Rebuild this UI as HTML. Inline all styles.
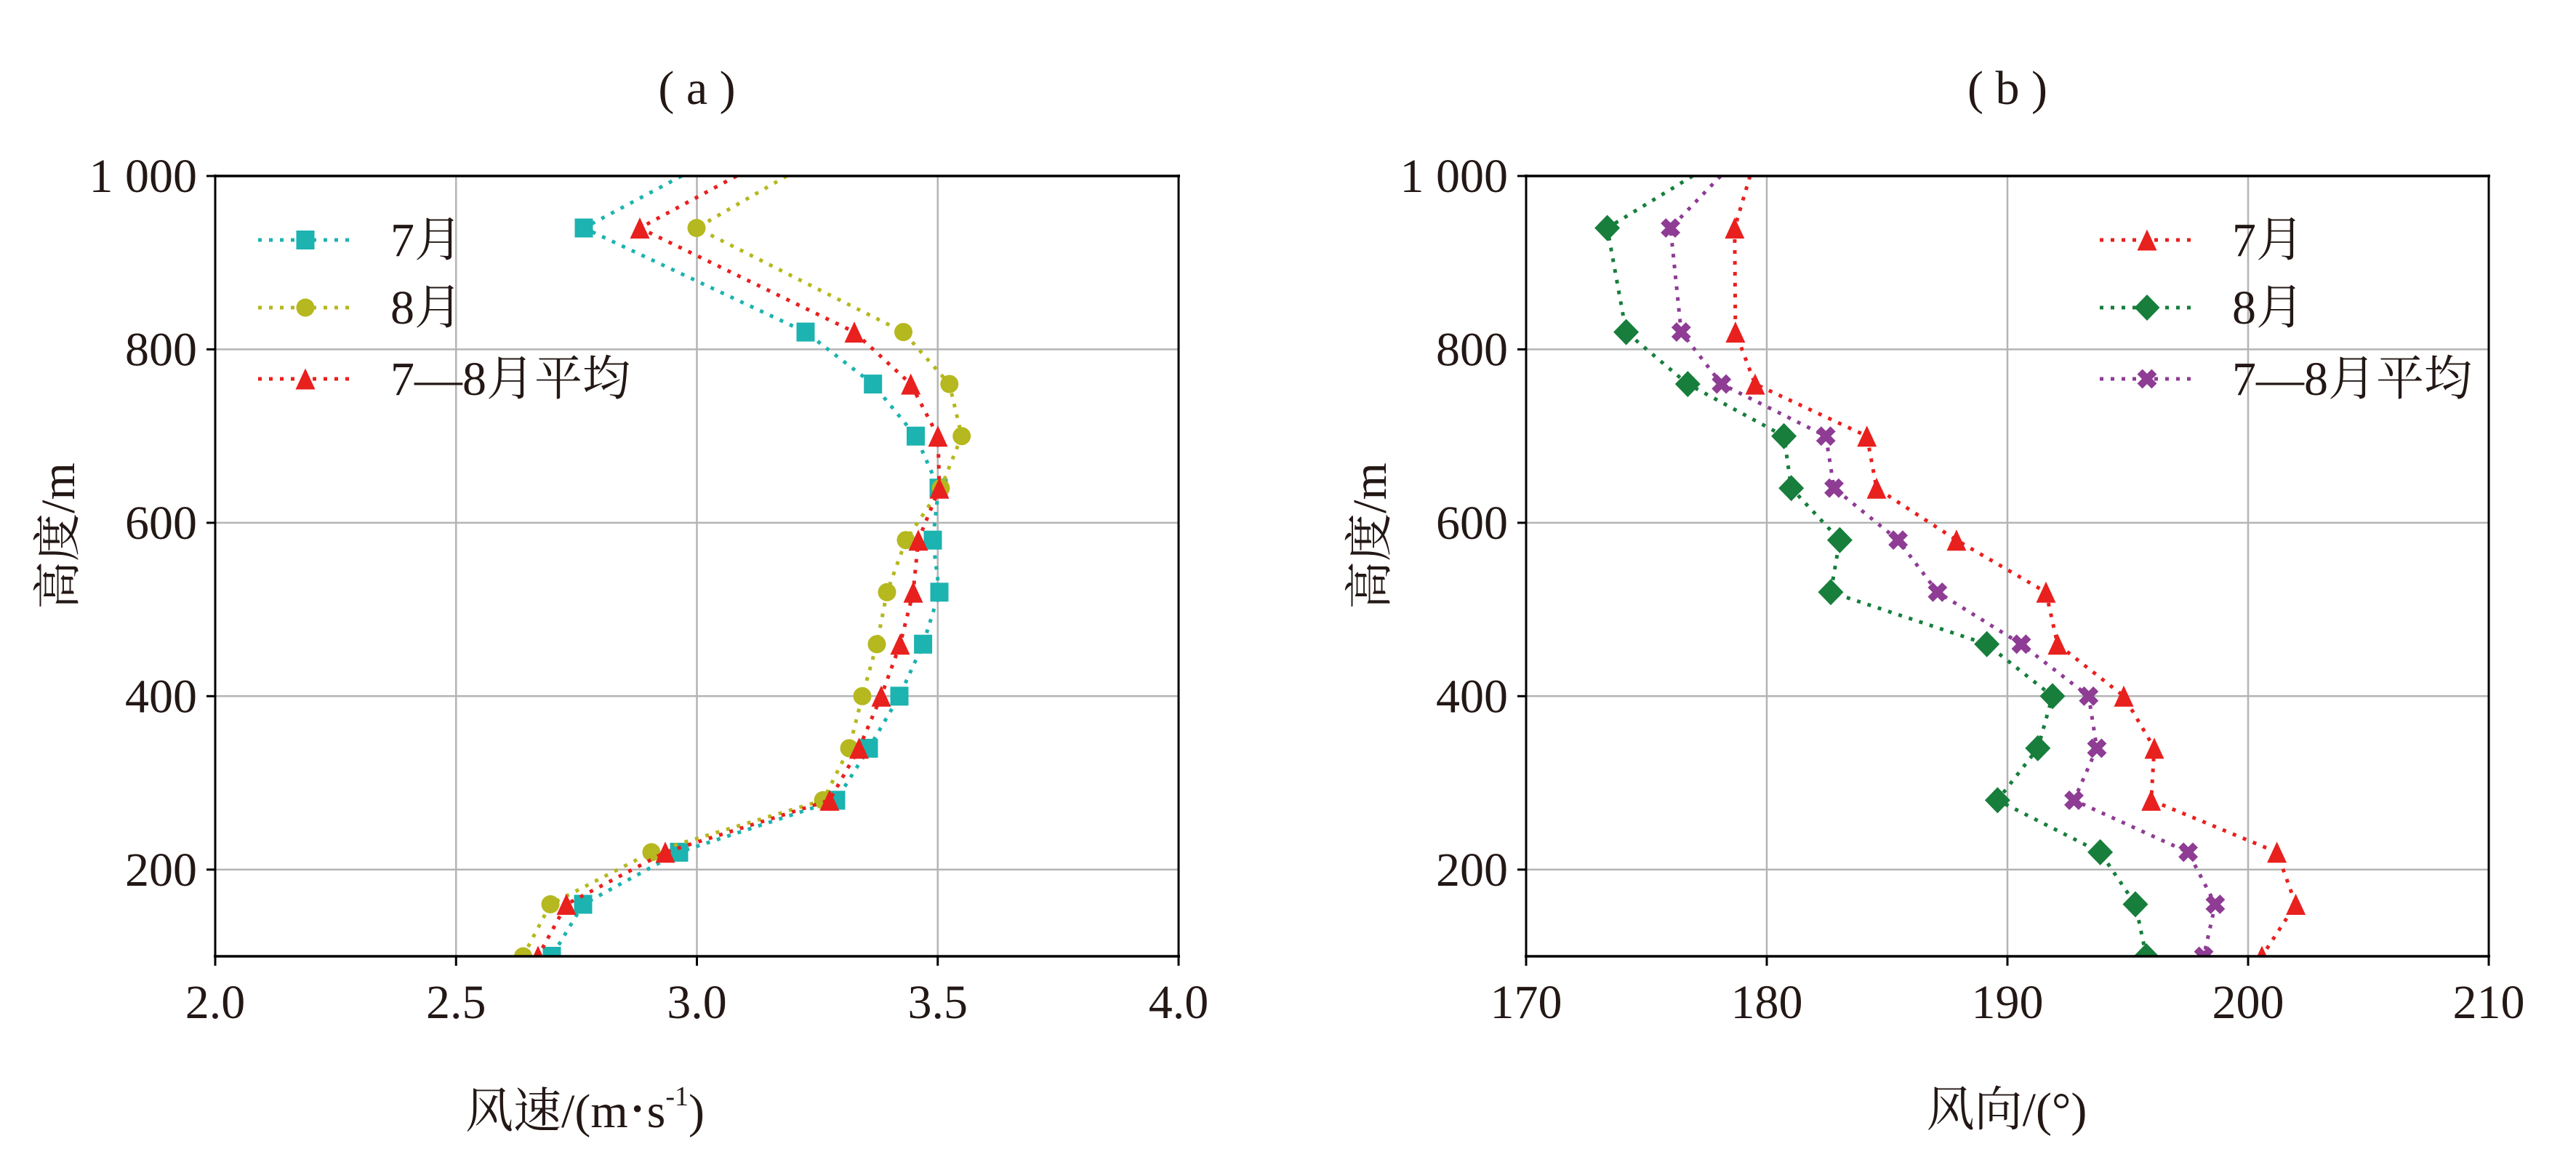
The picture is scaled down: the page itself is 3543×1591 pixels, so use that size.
<!DOCTYPE html>
<html>
<head>
<meta charset="utf-8">
<style>
html,body{margin:0;padding:0;background:#fff;}
svg{display:block;}
text{font-family:"Liberation Serif","Noto Serif CJK SC",serif;fill:#231815;}
</style>
</head>
<body>
<svg width="3543" height="1591" viewBox="0 0 3543 1591" xmlns="http://www.w3.org/2000/svg">
<defs>
  <clipPath id="ca"><rect x="296" y="242" width="1325" height="1073"/></clipPath>
  <clipPath id="cb"><rect x="2099" y="242" width="1324" height="1073"/></clipPath>
  <rect id="sq" x="-12.5" y="-13" width="25" height="26" fill="#1cb3b0"/>
  <circle id="ci" r="12.5" fill="#b5b81e"/>
  <polygon id="tr" points="0,-14.5 13.5,14.5 -13.5,14.5" fill="#e8201e"/>
  <polygon id="di" points="0,-18 17.5,0 0,18 -17.5,0" fill="#177e3c"/>
  <polygon id="xx" transform="rotate(45)" points="5,14 5,5 14,5 14,-5 5,-5 5,-14 -5,-14 -5,-5 -14,-5 -14,5 -5,5 -5,14" fill="#8e3c94"/>
</defs>
<rect width="3543" height="1591" fill="#fff"/>

<!-- ================= PLOT A ================= -->
<g stroke="#b4b4b4" stroke-width="2.5">
  <line x1="627.25" y1="242" x2="627.25" y2="1315"/>
  <line x1="958.5" y1="242" x2="958.5" y2="1315"/>
  <line x1="1289.75" y1="242" x2="1289.75" y2="1315"/>
  <line x1="296" y1="480.4" x2="1621" y2="480.4"/>
  <line x1="296" y1="718.9" x2="1621" y2="718.9"/>
  <line x1="296" y1="957.3" x2="1621" y2="957.3"/>
  <line x1="296" y1="1195.8" x2="1621" y2="1195.8"/>
</g>

<g clip-path="url(#ca)">
  <polyline fill="none" stroke="#1cb3b0" stroke-width="5" stroke-dasharray="5 10" points="937.5,242 803,313.5 1108,456.6 1200.7,528.1 1259.5,599.7 1291,671.2 1283,742.7 1292,814.3 1269.6,885.8 1237,957.3 1195,1028.9 1150,1100.4 934,1171.9 802,1243.5 759,1315"/>
  <g>
    <use href="#sq" x="803" y="313.5"/><use href="#sq" x="1108" y="456.6"/><use href="#sq" x="1200.7" y="528.1"/><use href="#sq" x="1259.5" y="599.7"/><use href="#sq" x="1291" y="671.2"/><use href="#sq" x="1283" y="742.7"/><use href="#sq" x="1292" y="814.3"/><use href="#sq" x="1269.6" y="885.8"/><use href="#sq" x="1237" y="957.3"/><use href="#sq" x="1195" y="1028.9"/><use href="#sq" x="1150" y="1100.4"/><use href="#sq" x="934" y="1171.9"/><use href="#sq" x="802" y="1243.5"/><use href="#sq" x="759" y="1315"/>
  </g>
  <polyline fill="none" stroke="#b5b81e" stroke-width="5" stroke-dasharray="5 10" points="1082,242 958,313.5 1242.5,456.6 1305.8,528.1 1322.7,599.7 1294,671.2 1246,742.7 1220,814.3 1206,885.8 1186,957.3 1168,1028.9 1132,1100.4 896,1171.9 757,1243.5 719.5,1315"/>
  <g>
    <use href="#ci" x="958" y="313.5"/><use href="#ci" x="1242.5" y="456.6"/><use href="#ci" x="1305.8" y="528.1"/><use href="#ci" x="1322.7" y="599.7"/><use href="#ci" x="1294" y="671.2"/><use href="#ci" x="1246" y="742.7"/><use href="#ci" x="1220" y="814.3"/><use href="#ci" x="1206" y="885.8"/><use href="#ci" x="1186" y="957.3"/><use href="#ci" x="1168" y="1028.9"/><use href="#ci" x="1132" y="1100.4"/><use href="#ci" x="896" y="1171.9"/><use href="#ci" x="757" y="1243.5"/><use href="#ci" x="719.5" y="1315"/>
  </g>
  <polyline fill="none" stroke="#e8201e" stroke-width="5" stroke-dasharray="5 10" points="1013,242 880,313.5 1175,456.6 1252.7,528.1 1290,599.7 1292,671.2 1263,742.7 1256,814.3 1238,885.8 1212,957.3 1181.5,1028.9 1141,1100.4 915,1171.9 779,1243.5 740,1315"/>
  <g>
    <use href="#tr" x="880" y="313.5"/><use href="#tr" x="1175" y="456.6"/><use href="#tr" x="1252.7" y="528.1"/><use href="#tr" x="1290" y="599.7"/><use href="#tr" x="1292" y="671.2"/><use href="#tr" x="1263" y="742.7"/><use href="#tr" x="1256" y="814.3"/><use href="#tr" x="1238" y="885.8"/><use href="#tr" x="1212" y="957.3"/><use href="#tr" x="1181.5" y="1028.9"/><use href="#tr" x="1141" y="1100.4"/><use href="#tr" x="915" y="1171.9"/><use href="#tr" x="779" y="1243.5"/><use href="#tr" x="740" y="1315"/>
  </g>
</g>

<!-- spines A -->
<g stroke="#000">
  <line x1="294" y1="242" x2="1623" y2="242" stroke-width="3.6"/>
  <line x1="294" y1="1315" x2="1623" y2="1315" stroke-width="3.6"/>
  <line x1="296" y1="240" x2="296" y2="1317" stroke-width="3"/>
  <line x1="1621" y1="240" x2="1621" y2="1317" stroke-width="3"/>
  <g stroke-width="3">
    <line x1="284" y1="242" x2="296" y2="242"/>
    <line x1="284" y1="480.4" x2="296" y2="480.4"/>
    <line x1="284" y1="718.9" x2="296" y2="718.9"/>
    <line x1="284" y1="957.3" x2="296" y2="957.3"/>
    <line x1="284" y1="1195.8" x2="296" y2="1195.8"/>
    <line x1="296" y1="1315" x2="296" y2="1328"/>
    <line x1="627.25" y1="1315" x2="627.25" y2="1328"/>
    <line x1="958.5" y1="1315" x2="958.5" y2="1328"/>
    <line x1="1289.75" y1="1315" x2="1289.75" y2="1328"/>
    <line x1="1621" y1="1315" x2="1621" y2="1328"/>
  </g>
</g>

<!-- legend A -->
<g stroke-width="5" stroke-dasharray="5 10" fill="none">
  <line x1="355" y1="330" x2="486" y2="330" stroke="#1cb3b0"/>
  <line x1="355" y1="423" x2="486" y2="423" stroke="#b5b81e"/>
  <line x1="355" y1="521" x2="486" y2="521" stroke="#e8201e"/>
</g>
<use href="#sq" x="420" y="330"/>
<use href="#ci" x="420" y="423"/>
<use href="#tr" x="420" y="521"/>
<g font-size="66">
  <text x="537" y="352">7月</text>
  <text x="537" y="445">8月</text>
  <text x="537" y="543">7—8月平均</text>
</g>

<!-- labels A -->
<g font-size="66" text-anchor="end">
  <text x="271" y="264">1 000</text>
  <text x="271" y="502.5">800</text>
  <text x="271" y="741">600</text>
  <text x="271" y="979.5">400</text>
  <text x="271" y="1218">200</text>
</g>
<g font-size="66" text-anchor="middle">
  <text x="296" y="1400">2.0</text>
  <text x="627.25" y="1400">2.5</text>
  <text x="958.5" y="1400">3.0</text>
  <text x="1289.75" y="1400">3.5</text>
  <text x="1621" y="1400">4.0</text>
  <text x="958.5" y="143">( a )</text>
</g>
<text x="640" y="1550" font-size="66">风速/(m<tspan font-size="40" dx="6" dy="-12">•</tspan><tspan font-size="66" dx="6" dy="12">s</tspan><tspan font-size="38" dy="-30">-1</tspan><tspan font-size="66" dy="30">)</tspan></text>
<text font-size="66" text-anchor="middle" transform="translate(102,737) rotate(-90)">高度/m</text>

<!-- ================= PLOT B ================= -->
<g stroke="#b4b4b4" stroke-width="2.5">
  <line x1="2430" y1="242" x2="2430" y2="1315"/>
  <line x1="2761" y1="242" x2="2761" y2="1315"/>
  <line x1="3092" y1="242" x2="3092" y2="1315"/>
  <line x1="2099" y1="480.4" x2="3423" y2="480.4"/>
  <line x1="2099" y1="718.9" x2="3423" y2="718.9"/>
  <line x1="2099" y1="957.3" x2="3423" y2="957.3"/>
  <line x1="2099" y1="1195.8" x2="3423" y2="1195.8"/>
</g>

<g clip-path="url(#cb)">
  <polyline fill="none" stroke="#e8201e" stroke-width="5" stroke-dasharray="5 10" points="2407,242 2385.8,313.5 2386.9,456.6 2414,528.1 2567.7,599.7 2581,671.2 2690.9,742.7 2814,814.3 2829.9,885.8 2921,957.3 2963,1028.9 2958.7,1100.4 3131.6,1171.9 3157.6,1243.5 3111,1315"/>
  <g>
    <use href="#tr" x="2385.8" y="313.5"/><use href="#tr" x="2386.9" y="456.6"/><use href="#tr" x="2414" y="528.1"/><use href="#tr" x="2567.7" y="599.7"/><use href="#tr" x="2581" y="671.2"/><use href="#tr" x="2690.9" y="742.7"/><use href="#tr" x="2814" y="814.3"/><use href="#tr" x="2829.9" y="885.8"/><use href="#tr" x="2921" y="957.3"/><use href="#tr" x="2963" y="1028.9"/><use href="#tr" x="2958.7" y="1100.4"/><use href="#tr" x="3131.6" y="1171.9"/><use href="#tr" x="3157.6" y="1243.5"/><use href="#tr" x="3111" y="1315"/>
  </g>
  <polyline fill="none" stroke="#177e3c" stroke-width="5" stroke-dasharray="5 10" points="2328,242 2210.6,313.5 2236.6,456.6 2321.3,528.1 2453.6,599.7 2463.7,671.2 2530.4,742.7 2518,814.3 2732.7,885.8 2823,957.3 2802.8,1028.9 2747.4,1100.4 2888.6,1171.9 2937,1243.5 2952,1315"/>
  <g>
    <use href="#di" x="2210.6" y="313.5"/><use href="#di" x="2236.6" y="456.6"/><use href="#di" x="2321.3" y="528.1"/><use href="#di" x="2453.6" y="599.7"/><use href="#di" x="2463.7" y="671.2"/><use href="#di" x="2530.4" y="742.7"/><use href="#di" x="2518" y="814.3"/><use href="#di" x="2732.7" y="885.8"/><use href="#di" x="2823" y="957.3"/><use href="#di" x="2802.8" y="1028.9"/><use href="#di" x="2747.4" y="1100.4"/><use href="#di" x="2888.6" y="1171.9"/><use href="#di" x="2937" y="1243.5"/><use href="#di" x="2952" y="1315"/>
  </g>
  <polyline fill="none" stroke="#8e3c94" stroke-width="5" stroke-dasharray="5 10" points="2366.5,242 2297.6,313.5 2312.3,456.6 2367.7,528.1 2511.2,599.7 2522.5,671.2 2610.6,742.7 2664.9,814.3 2780,885.8 2872.8,957.3 2884,1028.9 2852.5,1100.4 3009.6,1171.9 3046.9,1243.5 3031,1315"/>
  <g>
    <use href="#xx" x="2297.6" y="313.5"/><use href="#xx" x="2312.3" y="456.6"/><use href="#xx" x="2367.7" y="528.1"/><use href="#xx" x="2511.2" y="599.7"/><use href="#xx" x="2522.5" y="671.2"/><use href="#xx" x="2610.6" y="742.7"/><use href="#xx" x="2664.9" y="814.3"/><use href="#xx" x="2780" y="885.8"/><use href="#xx" x="2872.8" y="957.3"/><use href="#xx" x="2884" y="1028.9"/><use href="#xx" x="2852.5" y="1100.4"/><use href="#xx" x="3009.6" y="1171.9"/><use href="#xx" x="3046.9" y="1243.5"/><use href="#xx" x="3031" y="1315"/>
  </g>
</g>

<!-- spines B -->
<g stroke="#000">
  <line x1="2097" y1="242" x2="3425" y2="242" stroke-width="3.6"/>
  <line x1="2097" y1="1315" x2="3425" y2="1315" stroke-width="3.6"/>
  <line x1="2099" y1="240" x2="2099" y2="1317" stroke-width="3"/>
  <line x1="3423" y1="240" x2="3423" y2="1317" stroke-width="3"/>
  <g stroke-width="3">
    <line x1="2087" y1="242" x2="2099" y2="242"/>
    <line x1="2087" y1="480.4" x2="2099" y2="480.4"/>
    <line x1="2087" y1="718.9" x2="2099" y2="718.9"/>
    <line x1="2087" y1="957.3" x2="2099" y2="957.3"/>
    <line x1="2087" y1="1195.8" x2="2099" y2="1195.8"/>
    <line x1="2099" y1="1315" x2="2099" y2="1328"/>
    <line x1="2430" y1="1315" x2="2430" y2="1328"/>
    <line x1="2761" y1="1315" x2="2761" y2="1328"/>
    <line x1="3092" y1="1315" x2="3092" y2="1328"/>
    <line x1="3423" y1="1315" x2="3423" y2="1328"/>
  </g>
</g>

<!-- legend B -->
<g stroke-width="5" stroke-dasharray="5 10" fill="none">
  <line x1="2888" y1="330" x2="3019" y2="330" stroke="#e8201e"/>
  <line x1="2888" y1="423" x2="3019" y2="423" stroke="#177e3c"/>
  <line x1="2888" y1="521" x2="3019" y2="521" stroke="#8e3c94"/>
</g>
<use href="#tr" x="2953" y="330"/>
<use href="#di" x="2953" y="423"/>
<use href="#xx" x="2953" y="521"/>
<g font-size="66">
  <text x="3070" y="352">7月</text>
  <text x="3070" y="445">8月</text>
  <text x="3070" y="543">7—8月平均</text>
</g>

<!-- labels B -->
<g font-size="66" text-anchor="end">
  <text x="2074" y="264">1 000</text>
  <text x="2074" y="502.5">800</text>
  <text x="2074" y="741">600</text>
  <text x="2074" y="979.5">400</text>
  <text x="2074" y="1218">200</text>
</g>
<g font-size="66" text-anchor="middle">
  <text x="2099" y="1400">170</text>
  <text x="2430" y="1400">180</text>
  <text x="2761" y="1400">190</text>
  <text x="3092" y="1400">200</text>
  <text x="3423" y="1400">210</text>
  <text x="2761" y="143">( b )</text>
  <text x="2760" y="1548">风向/(°)</text>
</g>
<text font-size="66" text-anchor="middle" transform="translate(1906,737) rotate(-90)">高度/m</text>
</svg>
</body>
</html>
